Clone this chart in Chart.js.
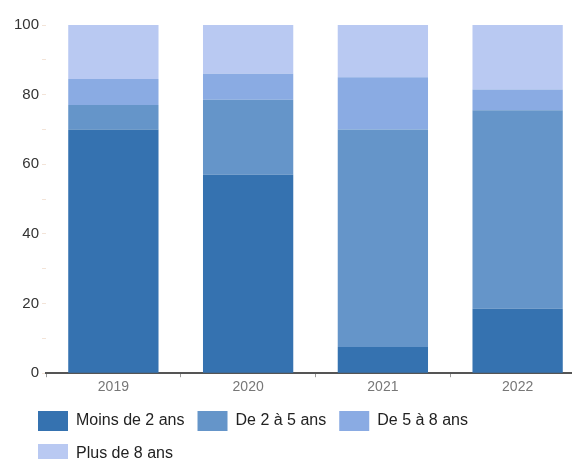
<!DOCTYPE html>
<html><head><meta charset="utf-8">
<script src="https://cdn.jsdelivr.net/npm/chart.js@4/dist/chart.umd.min.js"></script>
<style>html,body{margin:0;padding:0;background:#fff;overflow:hidden;width:572px;height:459px}canvas{display:block}</style>
</head><body>
<canvas id="c" width="586" height="474"></canvas>
<script>
const years = ['2019', '2020', '2021', '2022'];
const moinsDe2 = [70, 57, 7.5, 18.5];
const de2a5 = [7, 21.5, 62.5, 57];
const de5a8 = [7.5, 7.5, 15, 6];
const plusDe8 = [15.5, 14, 15, 18.5];
const seriesNames = ['Moins de 2 ans', 'De 2 à 5 ans', 'De 5 à 8 ans', 'Plus de 8 ans'];
const yTicks = [0, 20, 40, 60, 80, 100];

const colors = ['#3572b0', '#6595c9', '#8aabe3', '#b9c9f2'];
const series = [moinsDe2, de2a5, de5a8, plusDe8];

const shiftLegend = {
  id: 'shiftLegend',
  afterLayout(chart) {
    if (chart.legend) { chart.legend.left += 25; chart.legend.right += 25; }
  }
};

new Chart(document.getElementById('c'), {
  type: 'bar',
  data: {
    labels: years,
    datasets: series.map((d, i) => ({
      label: seriesNames[i],
      data: d,
      backgroundColor: colors[i],
      borderWidth: 0,
      barPercentage: 0.67,
      categoryPercentage: 1
    }))
  },
  options: {
    responsive: false,
    animation: false,
    layout: { padding: { left: 0, right: 1, top: 25, bottom: 0 } },
    plugins: {
      tooltip: { enabled: false },
      legend: {
        position: 'bottom',
        align: 'start',
        labels: {
          boxWidth: 30,
          boxHeight: 20,
          padding: 13,
          color: '#222',
          font: { family: 'Liberation Sans', size: 16 }
        }
      }
    },
    scales: {
      x: {
        stacked: true,
        border: { color: '#555', width: 2 },
        grid: { display: true, drawOnChartArea: false, tickLength: 4, color: '#999' },
        ticks: { color: '#777', padding: 2, font: { family: 'Liberation Sans', size: 14 } }
      },
      y: {
        stacked: true,
        min: 0,
        max: 100,
        afterFit: s => { s.width = 46; },
        border: { display: false },
        grid: { display: true, drawOnChartArea: false, tickLength: 4, color: '#f3e4d8' },
        ticks: {
          stepSize: 5,
          padding: 3,
          color: '#333',
          font: { family: 'Liberation Sans', size: 15 },
          callback: v => (yTicks.includes(v) ? String(v) : '')
        }
      }
    }
  },
  plugins: [shiftLegend]
});
</script>
</body></html>
